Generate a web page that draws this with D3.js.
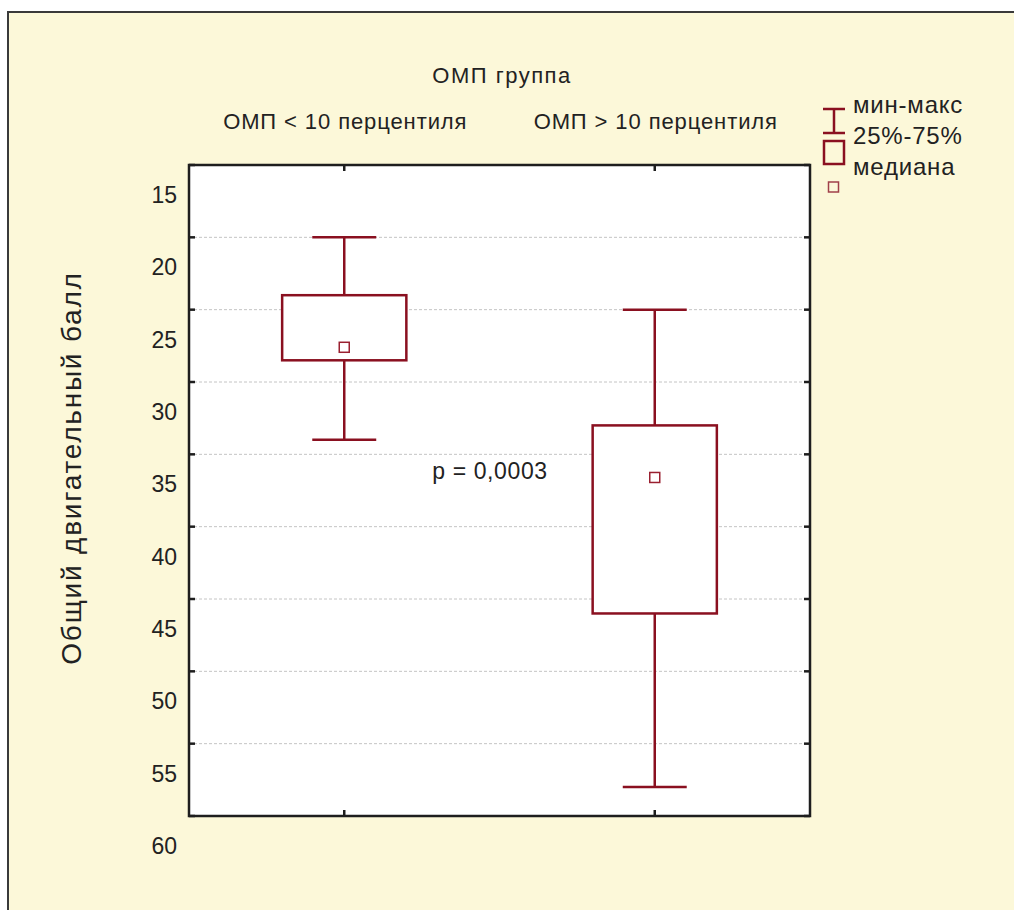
<!DOCTYPE html>
<html>
<head>
<meta charset="utf-8">
<script src="https://cdn.jsdelivr.net/npm/d3@7/dist/d3.min.js"></script>
<style>
  html, body { margin: 0; padding: 0; background: #ffffff; }
  svg { display: block; }
  text { font-family: "Liberation Sans", Arial, sans-serif; fill: #222; }
</style>
</head>
<body>
<svg id="chart" width="1014" height="910"></svg>
<script>
// ---- data ----
const categories = ["ОМП < 10 перцентиля", "ОМП > 10 перцентиля"];
const minValues    = [20, 25];
const q1Values     = [24, 33];
const medianValues = [27.6, 36.6];
const q3Values     = [28.5, 46];
const maxValues    = [34, 58];
const yTicks = [15, 20, 25, 30, 35, 40, 45, 50, 55, 60];
const groupTitle = "ОМП группа";
const yTitle = "Общий двигательный балл";
const pText = "p = 0,0003";
const legendLabels = ["мин-макс", "25%-75%", "медиана"];

// ---- layout ----
const svg = d3.select("#chart");
const plot = { left: 189, top: 165, right: 810, bottom: 816 };
const dark = "#8a1020";

svg.append("rect").attr("x", 8).attr("y", 12).attr("width", 1040).attr("height", 940)
  .attr("fill", "#fcf8d9").attr("stroke", "#3a3a3a").attr("stroke-width", 2);

const y = d3.scaleLinear().domain([15, 60]).range([plot.top, plot.bottom]);
const x = d3.scaleBand().domain(categories).range([plot.left, plot.right]);
const bw = x.bandwidth();
const cx = c => x(c) + bw / 2;

// plot background
svg.append("rect").attr("x", plot.left).attr("y", plot.top)
  .attr("width", plot.right - plot.left).attr("height", plot.bottom - plot.top)
  .attr("fill", "#ffffff");

// gridlines
svg.append("g").selectAll("line").data(yTicks.filter(t => t > 15 && t < 60)).join("line")
  .attr("x1", plot.left).attr("x2", plot.right)
  .attr("y1", d => y(d)).attr("y2", d => y(d))
  .attr("stroke", "#c4c4c4").attr("stroke-width", 1).attr("stroke-dasharray", "3,2");

// boxes
const data = categories.map((c, i) => ({
  c, min: minValues[i], q1: q1Values[i], med: medianValues[i], q3: q3Values[i], max: maxValues[i]
}));
const boxW = bw * 0.4, capW = bw * 0.206;
const g = svg.append("g").selectAll("g").data(data).join("g");
g.append("line").attr("x1", d => cx(d.c)).attr("x2", d => cx(d.c))
  .attr("y1", d => y(d.min)).attr("y2", d => y(d.max))
  .attr("stroke", dark).attr("stroke-width", 2.5);
g.append("line").attr("x1", d => cx(d.c) - capW / 2).attr("x2", d => cx(d.c) + capW / 2)
  .attr("y1", d => y(d.min)).attr("y2", d => y(d.min))
  .attr("stroke", dark).attr("stroke-width", 2.5);
g.append("line").attr("x1", d => cx(d.c) - capW / 2).attr("x2", d => cx(d.c) + capW / 2)
  .attr("y1", d => y(d.max)).attr("y2", d => y(d.max))
  .attr("stroke", dark).attr("stroke-width", 2.5);
g.append("rect").attr("x", d => cx(d.c) - boxW / 2).attr("width", boxW)
  .attr("y", d => y(d.q1)).attr("height", d => y(d.q3) - y(d.q1))
  .attr("fill", "#ffffff").attr("stroke", dark).attr("stroke-width", 2.5);
g.append("rect").attr("x", d => cx(d.c) - 5).attr("width", 10)
  .attr("y", d => y(d.med) - 5).attr("height", 10)
  .attr("fill", "#ffffff").attr("stroke", "#9a2030").attr("stroke-width", 1.5);

// frame
svg.append("rect").attr("x", plot.left).attr("y", plot.top)
  .attr("width", plot.right - plot.left).attr("height", plot.bottom - plot.top)
  .attr("fill", "none").attr("stroke", "#1e1e1e").attr("stroke-width", 2.5);

// tick marks (inward)
const tk = svg.append("g").attr("stroke", "#1e1e1e").attr("stroke-width", 2.5);
tk.selectAll(".yl").data(yTicks).join("line")
  .attr("x1", plot.left).attr("x2", plot.left + 6).attr("y1", d => y(d)).attr("y2", d => y(d));
tk.selectAll(".yr").data(yTicks).join("line")
  .attr("x1", plot.right - 6).attr("x2", plot.right).attr("y1", d => y(d)).attr("y2", d => y(d));
tk.selectAll(".xb").data(categories).join("line")
  .attr("x1", d => cx(d)).attr("x2", d => cx(d)).attr("y1", plot.bottom - 6).attr("y2", plot.bottom);
tk.selectAll(".xt").data(categories).join("line")
  .attr("x1", d => cx(d)).attr("x2", d => cx(d)).attr("y1", plot.top).attr("y2", plot.top + 6);

// y tick labels (offset below ticks, as in the original)
svg.append("g").selectAll("text").data(yTicks).join("text")
  .attr("x", 177).attr("y", d => y(d) + 38)
  .attr("text-anchor", "end").attr("font-size", 23)
  .text(d => d);

// category labels
svg.append("g").selectAll("text").data(categories).join("text")
  .attr("x", d => cx(d) + 1).attr("y", 129)
  .attr("text-anchor", "middle").attr("font-size", 22).attr("letter-spacing", 0.9)
  .text(d => d);
svg.append("text").attr("x", 502).attr("y", 83)
  .attr("text-anchor", "middle").attr("font-size", 22).attr("letter-spacing", 1.5).text(groupTitle);

// y title
svg.append("text").attr("transform", `translate(81,468) rotate(-90)`)
  .attr("text-anchor", "middle").attr("font-size", 28).attr("letter-spacing", 1.8).text(yTitle);

// p-value
svg.append("text").attr("x", 490).attr("y", 479).attr("text-anchor", "middle")
  .attr("font-size", 23).attr("letter-spacing", 0.6).text(pText);

// legend
const lg = svg.append("g");
lg.append("line").attr("x1", 834).attr("x2", 834).attr("y1", 109).attr("y2", 133)
  .attr("stroke", dark).attr("stroke-width", 2.5);
lg.append("line").attr("x1", 823).attr("x2", 845).attr("y1", 109).attr("y2", 109)
  .attr("stroke", dark).attr("stroke-width", 2.5);
lg.append("line").attr("x1", 823).attr("x2", 845).attr("y1", 133).attr("y2", 133)
  .attr("stroke", dark).attr("stroke-width", 2.5);
lg.append("rect").attr("x", 824).attr("y", 141).attr("width", 20).attr("height", 23)
  .attr("fill", "none").attr("stroke", dark).attr("stroke-width", 2.5);
lg.append("rect").attr("x", 828.5).attr("y", 182).attr("width", 10).attr("height", 10)
  .attr("fill", "none").attr("stroke", "#a0404a").attr("stroke-width", 1.5);
const legendY = [113, 144, 175];
lg.selectAll(".lt").data(legendLabels).join("text")
  .attr("x", 853).attr("y", (d, i) => legendY[i])
  .attr("font-size", 24).attr("letter-spacing", 0.8).text(d => d);
</script>
</body>
</html>
